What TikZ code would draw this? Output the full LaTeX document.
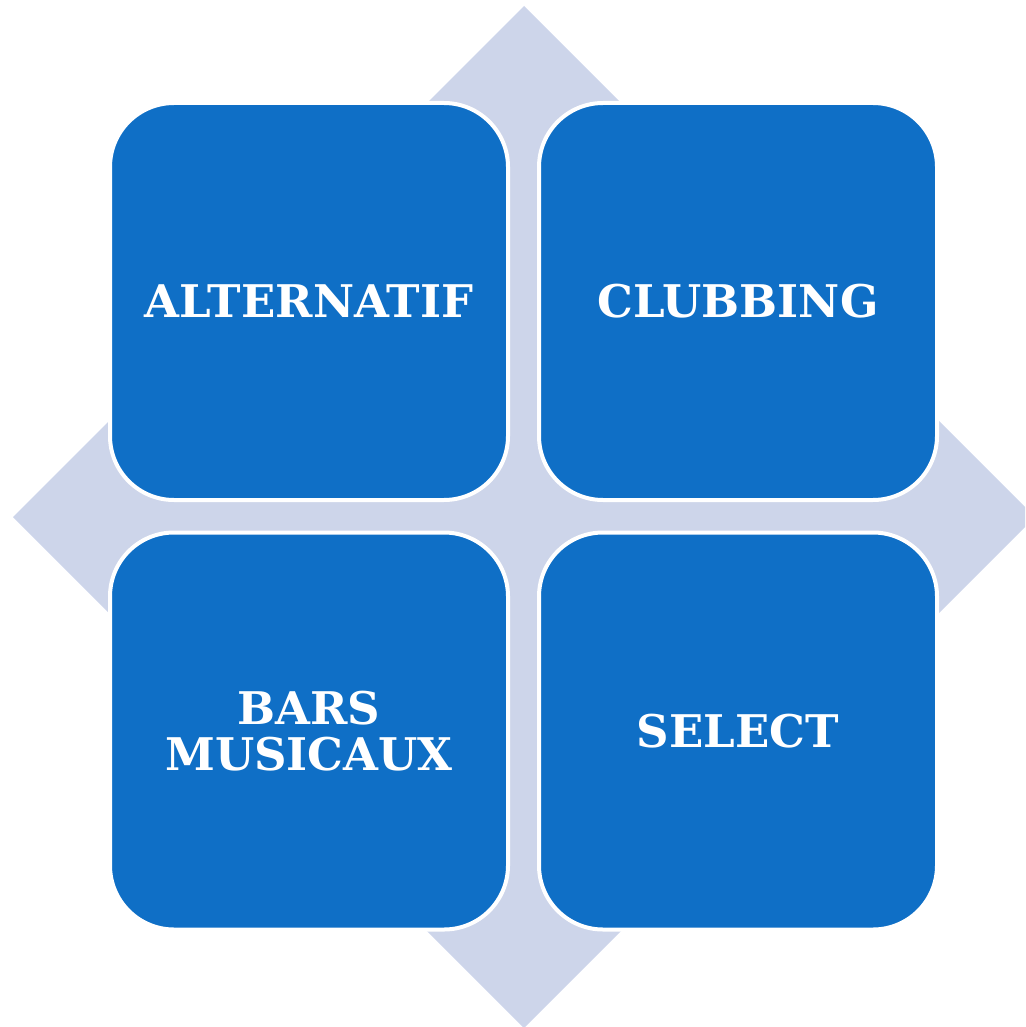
\documentclass[tikz,border=0pt]{standalone}
\usepackage{fontspec}
\usepackage{graphicx}
\newfontfamily\tilefont{DejaVu Serif}
\definecolor{boxblue}{HTML}{0F6FC6}
\definecolor{lav}{HTML}{CDD5EA}
\newcommand{\sq}[1]{\scalebox{1}[1]{#1}}
\tikzset{
  tile/.style={draw=white, line width=4pt, fill=boxblue, rounded corners=64pt,
    minimum width=398pt, minimum height=397pt, inner sep=0pt, outer sep=0pt,
    text=white, align=center,
    font=\tilefont\fontsize{45}{46}\selectfont\bfseries}
}
\begin{document}
\begin{tikzpicture}[x=1pt,y=-1pt]
\useasboundingbox (0,0) rectangle (1025,1027);
\begin{scope}
  \clip (0,0) rectangle (1025,1027);
  \fill[lav] (524,6) -- (1035,517) -- (524,1028) -- (13,517) -- cycle;
\end{scope}
\node[tile] (alt) at (309,301.5) {\sq{ALTERNATIF}};
\node[tile] (club) at (738,301.5) {\sq{CLUBBING}};
\node[tile] (bars) at (309,731) {\sq{BARS}\\\sq{MUSICAUX}};
\node[tile] (sel) at (738,731) {\sq{SELECT}};
\end{tikzpicture}
\end{document}
